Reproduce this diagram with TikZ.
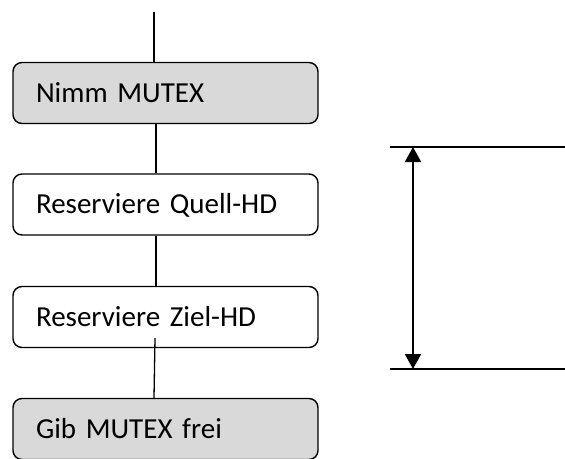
\documentclass[tikz,border=0pt]{standalone}
\usepackage{fontspec}
\setmainfont{Carlito}
\usepackage{tikz}
\usetikzlibrary{positioning}
\usepgflibrary{arrows.meta}

\tikzset{
    stepnode/.style={draw=black, line width=1.4pt, rounded corners=9pt, rectangle,
        minimum height=61pt, text width=259pt, inner xsep=23pt, inner ysep=0pt,
        align=left, text height=18.7pt, text depth=0pt,
        font=\fontsize{29}{34}\selectfont},
    mutexnode/.style={stepnode, fill=gray!30},
    resnode/.style={stepnode, fill=white},
    flowline/.style={draw=black, line width=1.3pt},
    dimline/.style={draw=black, line width=2pt}
}

\begin{document}
\begin{tikzpicture}[x=1pt, y=-1pt]
    \useasboundingbox (0,0) rectangle (565,458);
    \coordinate (start) at (154,12);
    \node[mutexnode] (nimm) at (165.5,93) {Nimm MUTEX};
    \node[resnode] (quell) at (165.5,204.5) {Reserviere Quell-HD};
    \node[resnode] (ziel) at (165.5,317) {Reserviere Ziel-HD};
    \node[mutexnode] (gib) at (165.5,429) {Gib MUTEX frei};
    \draw [flowline] (start) -- (start |- nimm.north);
    \draw [flowline] ([xshift=-9.5pt]nimm.south) -- ([xshift=-9.5pt]quell.north);
    \draw [flowline] ([xshift=-9.5pt]quell.south) -- ([xshift=-9.5pt]ziel.north);
    \draw [flowline] ([xshift=-10.5pt, yshift=10pt]ziel.south) -- ([xshift=-11.5pt]gib.north);
    % dimension on the right
    \coordinate (topL) at (390,147);
    \coordinate (topR) at (565,147);
    \coordinate (botL) at (390,369);
    \coordinate (botR) at (565,369);
    \coordinate (arrTop) at (413,147);
    \coordinate (arrBot) at (413,369);
    \draw [dimline] (topL) -- (topR);
    \draw [dimline] (botL) -- (botR);
    \draw [dimline, {Triangle[width=16pt, length=15pt]}-{Triangle[width=16pt, length=15pt]}] (arrTop) -- (arrBot);
\end{tikzpicture}
\end{document}
